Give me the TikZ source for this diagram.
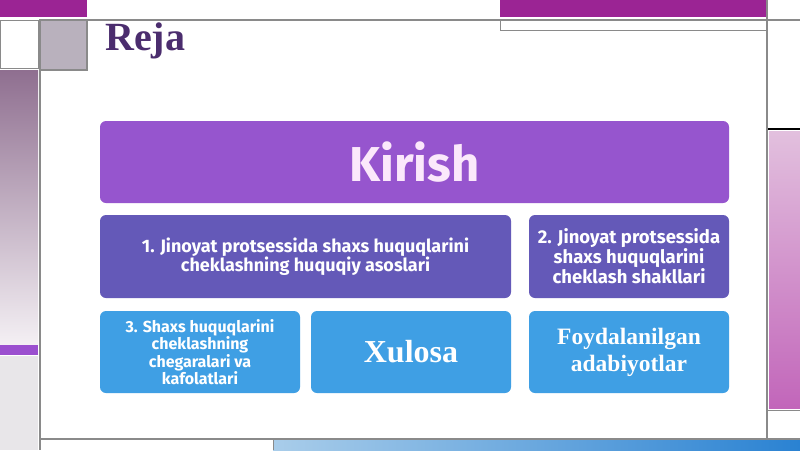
\documentclass[tikz,border=0pt]{standalone}
\usepackage{fontspec}
\setmainfont{Liberation Serif}
\newfontfamily\boxfont{Fira Sans}
\definecolor{kirishc}{HTML}{9655CE}
\definecolor{slatec}{HTML}{6459B8}
\definecolor{bluec}{HTML}{3F9FE4}
\definecolor{barpurple}{HTML}{9B2494}
\definecolor{framegray}{HTML}{8A8A8A}
\definecolor{squaregray}{HTML}{B9B1BD}
\definecolor{titlec}{HTML}{4B2D6E}
\definecolor{kirtext}{HTML}{FBE8FB}
\definecolor{pinktop}{HTML}{E2C0DE}
\definecolor{pinkbot}{HTML}{C266BA}
\definecolor{lefttop}{HTML}{8F6F90}
\definecolor{leftbot}{HTML}{F4F0F4}
\definecolor{leftbar}{HTML}{9B4FCF}
\definecolor{leftlow}{HTML}{E8E6E9}
\definecolor{blueleft}{HTML}{A9CDEA}
\definecolor{blueright}{HTML}{2A82D2}
\tikzset{
  card/.style={rounded corners=6pt, inner sep=0pt, align=center, text=white},
  frameline/.style={draw=framegray, line width=2pt},
}
\begin{document}
\begin{tikzpicture}[x=1pt,y=-1pt]
\useasboundingbox (0,0) rectangle (800,450);
\fill[white] (0,0) rectangle (800,450);
% top bars
\fill[barpurple] (0,0) rectangle (87,17);
\fill[barpurple] (500,0) rectangle (767,17);
\draw[framegray, line width=1pt] (500,19) rectangle (767,30);
% top horizontal line
\draw[frameline] (87,19.5) -- (800,19.5);
% right column
\draw[frameline] (767,0) -- (767,438);
\draw[black, line width=1.5pt] (768,129) -- (800,129);
\shade[top color=pinktop, bottom color=pinkbot] (769,131) rectangle (800,408);
\draw[framegray, line width=1pt] (768,410) -- (800,410);
% left column
\draw[framegray, line width=0.8pt, fill=white] (0,20) rectangle (38,68);
\draw[framegray, line width=1.2pt, fill=squaregray] (40,20) rectangle (87,70);
\shade[top color=lefttop, bottom color=leftbot] (0,70) rectangle (38,345);
\fill[leftbar] (0,345) rectangle (38,355);
\fill[leftlow] (0,356) rectangle (38,450);
\draw[frameline] (40,20) -- (40,450);
% bottom
\shade[left color=blueleft, right color=blueright] (273,440) rectangle (800,450);
\draw[frameline] (40,438.5) -- (800,438.5);
\draw[framegray, line width=0.6pt] (273,439) -- (273,450);
% title
\node[anchor=base west, inner sep=0pt, text=titlec, font=\fontsize{40}{40}\selectfont\bfseries] (title) at (105,50) {Reja};
% cards
\node[card, fill=kirishc, minimum width=629pt, minimum height=82pt, text=kirtext,
      font=\boxfont\fontsize{49}{50}\selectfont\bfseries] (kirish) at (414.5,162) {Kirish};
\node[card, fill=slatec, minimum width=411pt, minimum height=83pt,
      font=\boxfont\fontsize{18}{18}\selectfont\bfseries] (b1) at (305.5,256.5)
      {1. Jinoyat protsessida shaxs huquqlarini\\cheklashning huquqiy asoslari};
\node[card, fill=slatec, minimum width=200pt, minimum height=83pt,
      font=\boxfont\fontsize{18.5}{18}\selectfont\bfseries] (b2) at (629,256.5)
      {2. Jinoyat protsessida\\shaxs huquqlarini\\cheklash shakllari};
\node[card, fill=bluec, minimum width=200pt, minimum height=82pt,
      font=\boxfont\fontsize{16}{16}\selectfont\bfseries] (b3) at (200,352)
      {3. Shaxs huquqlarini\\cheklashning\\chegaralari va\\kafolatlari};
\node[card, fill=bluec, minimum width=200pt, minimum height=82pt,
      font=\fontsize{32}{34}\selectfont\bfseries] (xul) at (411,352) {Xulosa};
\node[card, fill=bluec, minimum width=200pt, minimum height=82pt,
      font=\fontsize{23.5}{27}\selectfont\bfseries] (foyd) at (629,352) {Foydalanilgan\\adabiyotlar};
\end{tikzpicture}
\end{document}
